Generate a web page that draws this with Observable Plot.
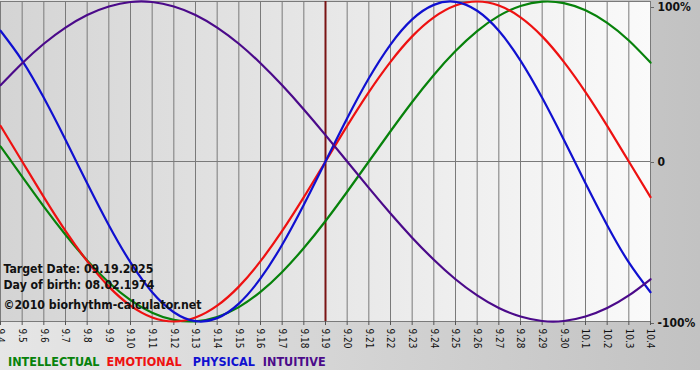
<!DOCTYPE html>
<html><head><meta charset="utf-8">
<script src="https://cdn.jsdelivr.net/npm/d3@7"></script>
<script src="https://cdn.jsdelivr.net/npm/@observablehq/plot@0.6"></script>
<style>
html,body{margin:0;padding:0;background:#fff;}
#wrap{width:700px;height:370px;background:linear-gradient(to right,#e6e6e6,#c2c2c2);position:relative;overflow:hidden;}
#legend{font-family:"DejaVu Sans Condensed","DejaVu Sans",sans-serif;font-weight:bold;font-size:12.5px;padding-left:8px;line-height:14px;margin-top:-1px;}
</style></head>
<body><div id="wrap"><div id="chart"></div><div id="legend"></div></div>
<script>
const dates = ["9.4","9.5","9.6","9.7","9.8","9.9","9.10","9.11","9.12","9.13","9.14","9.15","9.16","9.17","9.18","9.19","9.20","9.21","9.22","9.23","9.24","9.25","9.26","9.27","9.28","9.29","9.30","10.1","10.2","10.3","10.4"];
const intellectual = [0.095,-0.095,-0.282,-0.458,-0.618,-0.756,-0.866,-0.945,-0.990,-0.999,-0.972,-0.910,-0.815,-0.690,-0.541,-0.372,-0.189,0,0.189,0.372,0.541,0.690,0.815,0.910,0.972,0.999,0.990,0.945,0.866,0.756,0.618];
const emotional = [0.223,0,-0.223,-0.434,-0.623,-0.782,-0.901,-0.975,-1.000,-0.975,-0.901,-0.782,-0.623,-0.434,-0.223,0,0.223,0.434,0.623,0.782,0.901,0.975,1.000,0.975,0.901,0.782,0.623,0.434,0.223,0,-0.223];
const physical = [0.817,0.631,0.398,0.136,-0.136,-0.398,-0.631,-0.817,-0.942,-0.998,-0.979,-0.888,-0.731,-0.520,-0.270,0,0.270,0.520,0.731,0.888,0.979,0.998,0.942,0.817,0.631,0.398,0.136,-0.136,-0.398,-0.631,-0.817];
const intuitive = [0.476,0.614,0.736,0.837,0.916,0.969,0.997,0.997,0.969,0.916,0.837,0.736,0.614,0.476,0.325,0.165,0,-0.165,-0.325,-0.476,-0.614,-0.736,-0.837,-0.916,-0.969,-0.997,-0.997,-0.969,-0.916,-0.837,-0.736];
const seriesNames = ["INTELLECTUAL","EMOTIONAL","PHYSICAL","INTUITIVE"];
const seriesColors = ["#07820b","#ee1111","#1010d0","#4b0a8a"];
const yTicks = [1,0,-1];
const yTickLabels = ["100%","0","-100%"];
const targetDate = "9.19";
const infoLines = ["Target Date: 09.19.2025","Day of birth: 08.02.1974","©2010 biorhythm-calculator.net"];

const seriesData = [intellectual, emotional, physical, intuitive];
const idx = dates.map((d,i)=>i);
const font = '"DejaVu Sans Condensed","DejaVu Sans",sans-serif';
const yLab = d => yTickLabels[yTicks.indexOf(d)];

const lines = seriesData.map((vals,s)=>Plot.line(idx,{x:i=>i,y:i=>vals[i],stroke:seriesColors[s],strokeWidth:2.2,curve:"natural"}));

const chart = Plot.plot({
  width:700, height:356,
  marginLeft:0, marginRight:50, marginTop:1, marginBottom:35,
  style:{background:"transparent", fontFamily:font, overflow:"visible"},
  x:{domain:[0,dates.length-1]},
  y:{domain:[-1,1]},
  marks:[
    Plot.frame({fill:"url(#plotbg)", stroke:"none"}),
    Plot.gridX(idx,{stroke:"#7a7a7a", strokeOpacity:1, strokeWidth:1}),
    Plot.gridY(yTicks,{stroke:"#7a7a7a", strokeOpacity:1, strokeWidth:1}),
    Plot.axisX(idx,{tickFormat:i=>dates[i], tickRotate:90, tickSize:4, tickPadding:3, fontSize:10, stroke:"#555", fill:"#111"}),
    Plot.axisY(yTicks.slice(1,2),{anchor:"right", tickFormat:yLab, tickSize:3, tickPadding:4, dy:1, fontSize:12, fontWeight:"bold", stroke:"#666", fill:"#111"}),
    Plot.axisY(yTicks.slice(2),{anchor:"right", tickFormat:yLab, tickSize:3, tickPadding:4, dy:2, fontSize:12, fontWeight:"bold", stroke:"#666", fill:"#111"}),
    Plot.axisY(yTicks.slice(0,1),{anchor:"right", tickFormat:yLab, tickSize:3, tickPadding:4, dy:6, fontSize:12, fontWeight:"bold", stroke:"#666", fill:"#111"}),
    Plot.ruleX([dates.indexOf(targetDate)],{stroke:"#7a1414", strokeWidth:2}),
    ...lines,
    Plot.text([infoLines[0]],{frameAnchor:"bottom-left", dx:3, dy:-49, text:d=>d, fontSize:12.2, fontWeight:"bold", fill:"#111", textAnchor:"start"}),
    Plot.text([infoLines[1]],{frameAnchor:"bottom-left", dx:3, dy:-33, text:d=>d, fontSize:12.2, fontWeight:"bold", fill:"#111", textAnchor:"start"}),
    Plot.text([infoLines[2]],{frameAnchor:"bottom-left", dx:3, dy:-13, text:d=>d, fontSize:12.2, fontWeight:"bold", fill:"#111", textAnchor:"start"})
  ]
});
const ns="http://www.w3.org/2000/svg";
const defs=document.createElementNS(ns,"defs");
defs.innerHTML='<linearGradient id="plotbg" x1="0" x2="1" y1="0" y2="0"><stop offset="0" stop-color="#d4d4d4"/><stop offset="1" stop-color="#fafafa"/></linearGradient>';
chart.insertBefore(defs, chart.firstChild);
document.getElementById("chart").appendChild(chart);
const leg=document.getElementById("legend");
const gaps=[7,11,8,0];
seriesNames.forEach((n,i)=>{const s=document.createElement("span");s.textContent=n;s.style.color=seriesColors[i];s.style.marginRight=gaps[i]+"px";s.style.display="inline-block";leg.appendChild(s);});
</script></body></html>
